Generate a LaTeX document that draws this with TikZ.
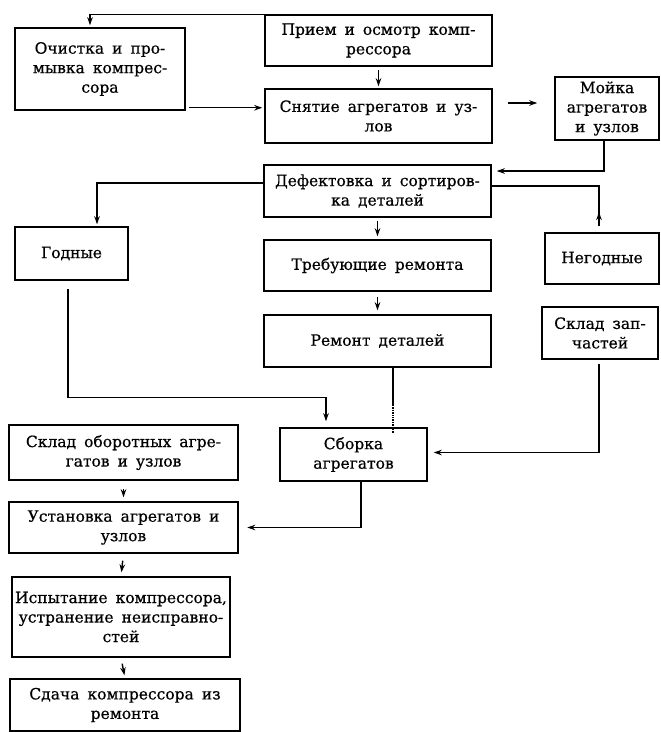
\documentclass[tikz,border=0pt]{standalone}
\usepackage{fontspec}
\setmainfont{DejaVu Serif}[FakeBold=0.6]
\newfontfamily\heavyfont{DejaVu Serif}[FakeBold=0.6]
\usetikzlibrary{arrows.meta}
\newcommand\bxfont{\heavyfont\fontsize{15.5}{19.5}\selectfont\spaceskip=8pt plus 1pt minus 1pt\relax}
\begin{document}
\begin{tikzpicture}[x=1pt,y=-1pt,
  box/.style={draw, line width=1.5pt, inner sep=0pt, align=center, font=\bxfont},
  bx/.style 2 args={box, minimum width=#1, minimum height=#2},
  ln/.style={line width=1.4pt},
  arr/.style={line width=1.4pt, -{Stealth[length=8pt,width=5.5pt]}}]
\useasboundingbox (0,0) rectangle (661,732);
% nodes
\node[bx={227pt}{51pt}] (priem) at (378.5,40.5) {Прием и осмотр комп-\\рессора};
\node[bx={170pt}{82pt}] (ochistka) at (100,69) {Очистка и про-\\мывка компрес-\\сора};
\node[bx={227pt}{54pt}] (snyatie) at (378.5,116) {Снятие агрегатов и уз-\\лов};
\node[bx={104pt}{63pt}] (moika) at (607,108.5) {Мойка\\агрегатов\\и узлов};
\node[bx={227pt}{52pt}] (defekt) at (377.5,191) {Дефектовка и сортиров-\\ка деталей};
\node[bx={113pt}{53pt}] (godnye) at (71.5,253.5) {Годные};
\node[bx={227pt}{51pt}] (treb) at (377.5,265.5) {Требующие ремонта};
\node[bx={114pt}{51pt}] (negod) at (602,258.5) {Негодные};
\node[bx={227pt}{52pt}] (remont) at (377.5,341) {Ремонт деталей};
\node[bx={116pt}{52pt}] (sklzap) at (600,333) {Склад зап-\\частей};
\node[bx={147pt}{53pt}] (sborka) at (353.5,454.5) {Сборка\\агрегатов};
\node[bx={229pt}{55pt}] (sklobor) at (123.5,452.5) {Склад оборотных агре-\\гатов и узлов};
\node[bx={229pt}{51pt}] (ustan) at (123.5,527.5) {Установка агрегатов и\\узлов};
\node[bx={218pt}{80pt}] (ispyt) at (121,617) {Испытание компрессора,\\устранение неисправно-\\стей};
\node[bx={230pt}{52pt}] (sdacha) at (125,705) {Сдача компрессора из\\ремонта};
% connectors
\draw[arr, shorten >=2pt] (priem.north west) -| ([xshift=-10pt]ochistka.north);
\draw[arr, shorten <=3pt, shorten >=2pt] ([yshift=3pt]ochistka.south east) -- ([yshift=3pt]ochistka.south east -| snyatie.west);
\draw[arr, shorten <=3pt, shorten >=2pt] (priem.south) -- (snyatie.north);
\draw[arr, shorten <=15pt, shorten >=17pt] ([yshift=13pt]snyatie.east) -- ([yshift=5.5pt]moika.west);
\draw[arr, shorten >=5pt] ([xshift=-3pt]moika.south) |- ([yshift=20pt]defekt.east);
\draw[arr, shorten >=2pt] ([yshift=8pt]defekt.west) -| ([xshift=25.5pt]godnye.north);
\coordinate (ng) at (599,226);
\draw[ln] ([yshift=5pt]defekt.east) -| (ng);
\draw[arr] (ng) -- ++(0pt,14pt);
\draw[arr, shorten <=3pt, shorten >=3pt] (defekt.south) -- (treb.north);
\draw[arr, shorten <=5pt, shorten >=4pt] (treb.south) -- (remont.north);
\draw[arr, shorten <=8pt, shorten >=6pt] ([xshift=-3.5pt]godnye.south) |- ([xshift=-27.5pt, yshift=29.5pt]sborka.north) -- ([xshift=-27.5pt]sborka.north);
\coordinate (rk) at (393,405);
\draw[ln] (remont.south -| rk) -- (rk);
\draw[ln, densely dotted] (rk) -- ([xshift=39.5pt, yshift=-6pt]sborka.north);
\draw[arr, shorten <=4pt, shorten >=6pt] ([xshift=-1pt]sklzap.south) |- ([yshift=2pt]sborka.east);
\draw[arr, shorten >=8.5pt] ([xshift=7.5pt]sborka.south) |- (ustan.east);
\draw[arr, shorten <=8pt, shorten >=4pt] (sklobor.south) -- (ustan.north);
\draw[arr, shorten <=7pt, shorten >=4pt] (ustan.south) -- (ispyt.north);
\draw[arr, shorten <=6pt, shorten >=3pt] (ispyt.south) -- (sdacha.north);
\end{tikzpicture}
\end{document}
